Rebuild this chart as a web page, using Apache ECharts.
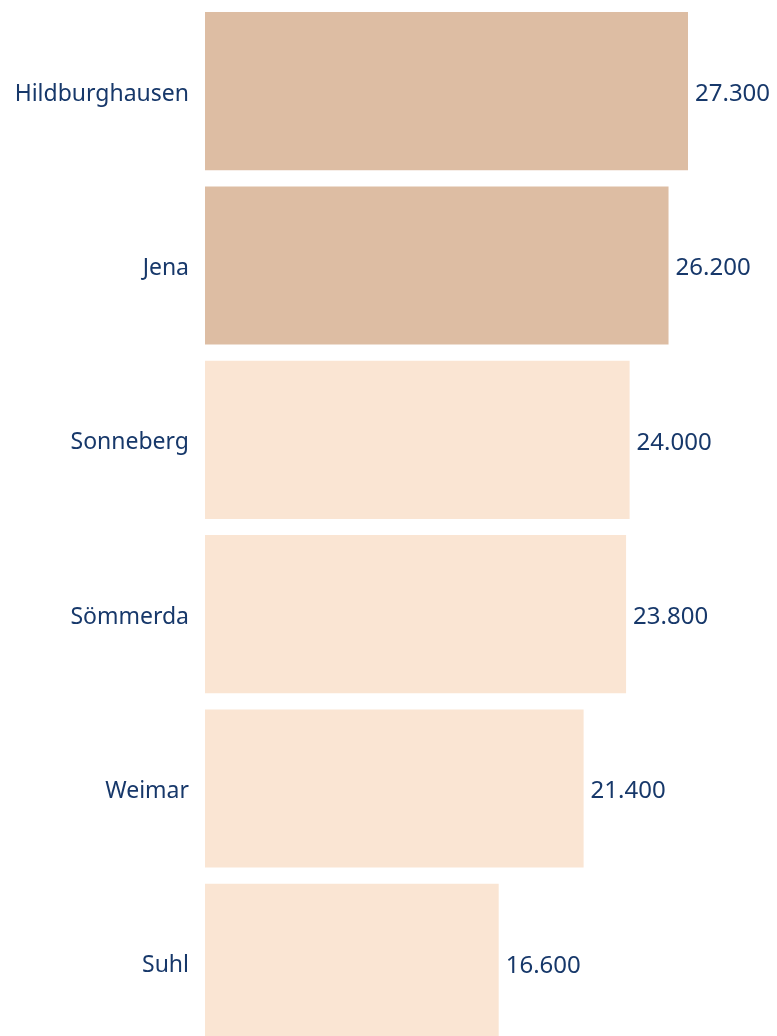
<!DOCTYPE html>
<html><head><meta charset="utf-8">
<script src="https://cdn.jsdelivr.net/npm/echarts@6/dist/echarts.min.js"></script>
<style>html,body{margin:0;padding:0;background:#fff}#c{width:777px;height:1036px}</style>
</head><body><div id="c"></div>
<script>
const categories = ["Hildburghausen","Jena","Sonneberg","Sömmerda","Weimar","Suhl"];
const values = [27300,26200,24000,23800,21400,16600];
const highlighted = [true,true,false,false,false,false];
const darkColor = "#DDBDA3", lightColor = "#FAE5D3", textColor = "#17386A";
const fmt = v => String(v).replace(/\B(?=(\d{3})+(?!\d))/g, ".");
const chart = echarts.init(document.getElementById('c'));
chart.setOption({
  animation:false,
  grid:{left:205, top:4, width:483, height:1046, containLabel:false, outerBoundsMode:'none'},
  xAxis:{type:'value', min:0, max:27300, show:false},
  yAxis:{type:'category', inverse:true, data:categories,
    axisLine:{show:false}, axisTick:{show:false}, splitLine:{show:false},
    axisLabel:{color:textColor, fontFamily:'Noto Sans', fontSize:23, margin:16,
      formatter: v => '{a|' + v + '}',
      rich:{a:{color:textColor, fontFamily:'Noto Sans', fontSize:23, padding:[6,0,0,0]}}}},
  series:[{type:'bar', barCategoryGap:'9.3%',
    data: values.map((v,i)=>({value:v, itemStyle:{color: highlighted[i]?darkColor:lightColor}})),
    label:{show:true, position:'right', distance:7, offset:[0,3], color:textColor, fontFamily:'Noto Sans', fontSize:24, formatter:p=>fmt(p.value)}
  }]
});
</script></body></html>
